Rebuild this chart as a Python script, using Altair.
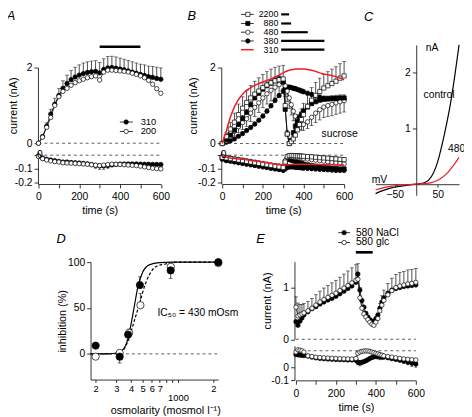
import altair as alt
import pandas as pd

OFF = 8
W, H = 464, 409
FONT = "Liberation Sans"
RED = "#ee1c25"

# ---------------- Panel A data ----------------
T = list(range(0, 601, 20))
A_310 = [0.00, 0.17, 0.45, 0.77, 1.03, 1.26, 1.45, 1.58, 1.68, 1.75, 1.80, 1.84, 1.87, 1.89, 1.90, 1.86,
         1.95, 1.99, 2.00, 1.98, 1.96, 1.94, 1.91, 1.88, 1.85, 1.82, 1.79, 1.76, 1.74, 1.71, 1.69]
A_310_ERR = [0.02, 0.05, 0.09, 0.13, 0.16, 0.18, 0.20, 0.22, 0.24, 0.26, 0.27, 0.28, 0.28, 0.28, 0.28, 0.27,
             0.28, 0.30, 0.30, 0.30, 0.29, 0.28, 0.28, 0.27, 0.27, 0.27, 0.28, 0.28, 0.29, 0.30, 0.30]
A_200 = [0.00, 0.16, 0.42, 0.68, 1.00, 1.23, 1.37, 1.45, 1.53, 1.60, 1.65, 1.69, 1.73, 1.76, 1.78, 1.67,
         1.88, 1.93, 1.93, 1.92, 1.91, 1.90, 1.88, 1.85, 1.82, 1.78, 1.73, 1.66, 1.56, 1.44, 1.32]
A_310_LOW = [-0.005, -0.02, -0.03, -0.035, -0.04, -0.045, -0.05, -0.05, -0.053, -0.055, -0.057, -0.06, -0.063,
             -0.068, -0.075, -0.078, -0.078, -0.075, -0.07, -0.067, -0.065, -0.064, -0.064, -0.064, -0.064,
             -0.065, -0.066, -0.066, -0.067, -0.067, -0.068]
A_310_LOW_ERR = [0.005, 0.01, 0.01, 0.01, 0.01, 0.01, 0.01, 0.01, 0.01, 0.01, 0.01, 0.01, 0.012, 0.015, 0.02,
                 0.025, 0.025, 0.02, 0.015, 0.012, 0.01, 0.01, 0.01, 0.01, 0.01, 0.01, 0.01, 0.01, 0.01, 0.01, 0.01]
A_200_LOW = [-0.01, -0.025, -0.035, -0.042, -0.047, -0.05, -0.055, -0.057, -0.058, -0.06, -0.062, -0.064,
             -0.066, -0.07, -0.073, -0.076, -0.072, -0.068, -0.065, -0.066, -0.068, -0.07, -0.072, -0.074,
             -0.076, -0.08, -0.085, -0.09, -0.095, -0.098, -0.1]

# ---------------- Panel B data ----------------
TB = list(range(0, 301, 20)) + list(range(310, 401, 10)) + list(range(420, 601, 20))
B_2200 = [0, 0.18, 0.38, 0.56, 0.76, 0.93, 1.08, 1.20, 1.30, 1.38, 1.47, 1.54, 1.60, 1.65, 1.68, 1.70,
          1.00, 0.25, 0.00, 0.05, 0.12, 0.22, 0.36, 0.50, 0.63, 0.76,
          0.98, 1.14, 1.27, 1.37, 1.46, 1.52, 1.58, 1.64, 1.72, 1.78]
B_2200_ERR = [0.02, 0.10, 0.18, 0.24, 0.28, 0.30, 0.32, 0.33, 0.34, 0.35, 0.35, 0.35, 0.36, 0.36, 0.36, 0.36,
              0.30, 0.10, 0.04, 0.06, 0.10, 0.15, 0.20, 0.25, 0.28, 0.30,
              0.32, 0.33, 0.34, 0.35, 0.36, 0.37, 0.38, 0.38, 0.38, 0.38]
B_880 = [0, 0.10, 0.22, 0.35, 0.50, 0.66, 0.82, 1.02, 1.20, 1.32, 1.43, 1.52, 1.59, 1.65, 1.70, 1.62,
         0.90, 0.25, 0.00, 0.08, 0.28, 0.45, 0.58, 0.68, 0.77, 0.85,
         0.96, 1.05, 1.10, 1.14, 1.16, 1.17, 1.18, 1.19, 1.20, 1.20]
B_880_ERR = [0.01, 0.03, 0.05, 0.06, 0.07, 0.08, 0.08, 0.08, 0.08, 0.08, 0.08, 0.08, 0.08, 0.08, 0.08, 0.08,
             0.08, 0.05, 0.03, 0.04, 0.06, 0.07, 0.08, 0.08, 0.08, 0.08,
             0.08, 0.08, 0.08, 0.08, 0.08, 0.08, 0.08, 0.08, 0.08, 0.08]
B_480 = [0, 0.07, 0.18, 0.32, 0.44, 0.55, 0.65, 0.80, 0.95, 1.07, 1.20, 1.31, 1.40, 1.48, 1.55, 1.60,
         1.52, 1.38, 1.20, 1.02, 0.85, 0.72, 0.62, 0.55, 0.51, 0.50,
         0.57, 0.69, 0.80, 0.89, 0.96, 1.00, 1.03, 1.07, 1.10, 1.13]
B_480_ERR = [0.01, 0.04, 0.08, 0.12, 0.15, 0.18, 0.20, 0.22, 0.24, 0.25, 0.26, 0.27, 0.28, 0.28, 0.28, 0.28,
             0.28, 0.28, 0.28, 0.27, 0.25, 0.22, 0.20, 0.18, 0.16, 0.15,
             0.18, 0.22, 0.25, 0.27, 0.28, 0.29, 0.30, 0.30, 0.30, 0.30]
B_380 = [0, 0.03, 0.07, 0.12, 0.19, 0.26, 0.34, 0.42, 0.51, 0.61, 0.72, 0.85, 0.99, 1.13, 1.26, 1.38,
         1.44, 1.48, 1.48, 1.47, 1.45, 1.44, 1.42, 1.40, 1.38, 1.36,
         1.32, 1.29, 1.26, 1.22, 1.19, 1.18, 1.18, 1.17, 1.17, 1.17]
B_380_ERR = [0.00, 0.02, 0.03, 0.04, 0.05, 0.05, 0.06, 0.06, 0.06, 0.06, 0.06, 0.06, 0.06, 0.06, 0.06, 0.06,
             0.06, 0.06, 0.06, 0.06, 0.06, 0.06, 0.06, 0.06, 0.06, 0.06,
             0.06, 0.06, 0.06, 0.06, 0.06, 0.06, 0.06, 0.06, 0.06, 0.06]
B_310 = [0, 0.33, 0.70, 0.97, 1.16, 1.30, 1.40, 1.47, 1.53, 1.58, 1.62, 1.66, 1.70, 1.75, 1.80, 1.86,
         1.89, 1.91, 1.93, 1.94, 1.95, 1.96, 1.96, 1.96, 1.96, 1.96,
         1.95, 1.93, 1.90, 1.86, 1.83, 1.81, 1.79, 1.76, 1.72, 1.68]
B_2200_LOW = [-0.015, -0.02, -0.025, -0.03, -0.035, -0.04, -0.045, -0.05, -0.055, -0.06, -0.065, -0.07, -0.075,
              -0.08, -0.085, -0.09, -0.05, -0.01, -0.003, -0.002, -0.003, -0.004, -0.005, -0.006, -0.007, -0.008,
              -0.01, -0.012, -0.015, -0.018, -0.02, -0.022, -0.025, -0.027, -0.03, -0.032]
B_880_LOW = [-0.02, -0.03, -0.035, -0.04, -0.045, -0.05, -0.055, -0.06, -0.065, -0.07, -0.075, -0.08, -0.085,
             -0.09, -0.095, -0.1, -0.06, -0.03, -0.03, -0.035, -0.04, -0.045, -0.05, -0.055, -0.06, -0.065,
             -0.07, -0.075, -0.08, -0.085, -0.09, -0.092, -0.095, -0.097, -0.1, -0.1]
B_480_LOW = [-0.01, -0.015, -0.02, -0.025, -0.03, -0.035, -0.04, -0.045, -0.05, -0.055, -0.06, -0.065, -0.07,
             -0.075, -0.078, -0.08, -0.04, -0.015, -0.01, -0.012, -0.014, -0.016, -0.018, -0.02, -0.022, -0.024,
             -0.028, -0.032, -0.036, -0.04, -0.044, -0.048, -0.052, -0.056, -0.06, -0.064]
B_380_LOW = [-0.03, -0.04, -0.045, -0.05, -0.055, -0.06, -0.065, -0.07, -0.075, -0.08, -0.085, -0.09, -0.095,
             -0.1, -0.105, -0.11, -0.1, -0.09, -0.085, -0.085, -0.085, -0.088, -0.09, -0.09, -0.092, -0.094,
             -0.096, -0.098, -0.1, -0.102, -0.104, -0.106, -0.108, -0.11, -0.11, -0.11]
B_LOW_ERR = [0.005, 0.01, 0.01, 0.012, 0.012, 0.015, 0.015, 0.015, 0.015, 0.015, 0.015, 0.015, 0.015, 0.015,
             0.015, 0.015, 0.015, 0.015, 0.015, 0.015, 0.015, 0.015, 0.015, 0.015, 0.015, 0.015,
             0.015, 0.015, 0.015, 0.015, 0.015, 0.015, 0.015, 0.015, 0.015, 0.015]
B_310_LOW = [-0.01, -0.015, -0.02, -0.024, -0.027, -0.03, -0.034, -0.038, -0.042, -0.046, -0.05, -0.055, -0.06,
             -0.064, -0.068, -0.072, -0.071, -0.07, -0.069, -0.068, -0.067, -0.066, -0.066, -0.066, -0.066,
             -0.066, -0.066, -0.067, -0.068, -0.068, -0.069, -0.07, -0.07, -0.071, -0.072, -0.072]

# ---------------- Panel C data (I-V) ----------------
C_MV = [-95, -80, -60, -40, -20, 0, 10, 20, 30, 40, 50, 60, 70, 80, 90, 100]
C_CONTROL = [-0.17, -0.12, -0.07, -0.04, -0.02, 0, 0.01, 0.03, 0.08, 0.20, 0.40, 0.70, 1.05, 1.45, 1.95, 2.5]
C_480 = [-0.10, -0.07, -0.04, -0.02, -0.01, 0, 0.005, 0.01, 0.02, 0.04, 0.07, 0.12, 0.18, 0.27, 0.37, 0.48]

# ---------------- Panel D data (dose-response) ----------------
D_OSM_F = [200, 320, 377, 475, 867, 2200]
D_INH_F = [9, -3, 21, 75, 91, 100]
D_ERR_F = [0, -7, -6, 9, -9, 0]
D_OSM_O = [200, 320, 385, 480, 870, 2200]
D_INH_O = [-3, 1, 23, 53, 95, 99]
D_ERR_O = [0, 0, 4, 13, 3, 0]
D_FIT_X = [181, 250, 300, 342, 377, 403, 430, 458, 501, 570, 694, 900, 2200]
D_FIT_Y = [0, 0, 1, 5, 17, 35, 55, 74, 89, 97, 99.5, 100, 100]
D_FIT2_X = [181, 300, 342, 388, 428, 472, 518, 570, 648, 787, 1005, 2200]
D_FIT2_Y = [0, 0.5, 4, 19, 37, 55, 73, 86, 95, 98, 100, 100]

# ---------------- Panel E data ----------------
TE = [0, 10, 20, 30, 40] + list(range(60, 301, 20)) + list(range(310, 441, 10)) + list(range(460, 601, 20))
E_NACL = [0.34, 0.27, 0.35, 0.41, 0.47, 0.53, 0.59, 0.63, 0.68, 0.72, 0.76, 0.79, 0.83, 0.88, 0.93, 0.98, 1.03,
          1.10, 1.26, 0.95, 0.75, 0.62, 0.50, 0.43, 0.38, 0.35, 0.34, 0.40, 0.47, 0.60, 0.72, 0.80,
          0.89, 0.95, 0.98, 1.00, 1.02, 1.03, 1.04, 1.05]
E_GLC = [0.62, 0.45, 0.47, 0.49, 0.51, 0.55, 0.60, 0.66, 0.72, 0.77, 0.81, 0.85, 0.89, 0.94, 0.99, 1.04, 1.09,
         1.14, 1.16, 0.80, 0.60, 0.49, 0.43, 0.38, 0.33, 0.29, 0.27, 0.33, 0.40, 0.55, 0.66, 0.75,
         0.86, 0.94, 1.00, 1.03, 1.05, 1.07, 1.08, 1.10]
E_GLC_ERR = [0.20, 0.25, 0.20, 0.18, 0.18, 0.18, 0.19, 0.20, 0.21, 0.22, 0.23, 0.24, 0.25, 0.26, 0.27, 0.28, 0.29,
             0.30, 0.30, 0.20, 0.15, 0.12, 0.10, 0.08, 0.07, 0.06, 0.06, 0.08, 0.10, 0.14, 0.18, 0.20,
             0.22, 0.24, 0.25, 0.26, 0.26, 0.27, 0.27, 0.27]
E_GLC_LOW = [0.12, 0.137, 0.135, 0.13, 0.12, 0.09, 0.085, 0.08, 0.077, 0.075, 0.073, 0.071, 0.07, 0.068, 0.067,
             0.066, 0.065, 0.07, 0.11, 0.12, 0.125, 0.128, 0.129, 0.128, 0.125, 0.12, 0.115, 0.11, 0.105, 0.1,
             0.095, 0.09, 0.085, 0.08, 0.075, 0.07, 0.066, 0.063, 0.06, 0.058]
E_NACL_LOW = [0.1, 0.098, 0.096, 0.094, 0.092, 0.088, 0.08, 0.074, 0.07, 0.067, 0.065, 0.063, 0.061, 0.06, 0.059,
              0.058, 0.058, 0.056, 0.04, 0.036, 0.04, 0.045, 0.052, 0.06, 0.07, 0.077, 0.082, 0.085, 0.085,
              0.084, 0.082, 0.08, 0.075, 0.068, 0.062, 0.055, 0.048, 0.04, 0.032, 0.026]
E_NACL_LOW_ERR = [0.005, 0.005, 0.005, 0.005, 0.005, 0.005, 0.005, 0.005, 0.005, 0.005, 0.005, 0.005, 0.005,
                  0.005, 0.005, 0.005, 0.005, 0.01, 0.02, 0.025, 0.02, 0.015, 0.01, 0.01, 0.01, 0.01, 0.01,
                  0.015, 0.02, 0.025, 0.02, 0.01, 0.01, 0.01, 0.01, 0.01, 0.015, 0.02, 0.025, 0.025]


# ---------------- helpers ----------------
def sc(dom, r, typ="linear"):
    return alt.Scale(type=typ, domain=dom, range=[r[0] - OFF, r[1] - OFF], nice=False, zero=False)


def xax(y_ref, **kw):
    kw.setdefault("labelPadding", 4)
    return alt.Axis(orient="bottom", offset=(y_ref - OFF) - H, **kw)


def yax(x_ref, **kw):
    return alt.Axis(orient="left", offset=-(x_ref - OFF), **kw)


class Panel:
    def __init__(self, xdom, xr, ydom, yr, xaxis=None, yaxis=None, xtype="linear"):
        self.xs = sc(xdom, xr, xtype)
        self.ys = sc(ydom, yr)
        self.xa = xaxis
        self.ya = yaxis
        self.layers = []

    def x(self, f):
        return alt.X(f, type="quantitative", scale=self.xs, axis=self.xa)

    def y(self, f):
        return alt.Y(f, type="quantitative", scale=self.ys, axis=self.ya)

    def add(self, *chs):
        self.layers.extend(chs)

    def chart(self):
        return alt.layer(*self.layers)


def line(P, t, v, color="black", width=0.8, dash=None, interp=None):
    df = pd.DataFrame({"t": t, "v": v})
    kw = dict(color=color, strokeWidth=width, clip=False)
    if dash:
        kw["strokeDash"] = dash
    if interp:
        kw["interpolate"] = interp
    return alt.Chart(df).mark_line(**kw).encode(x=P.x("t"), y=P.y("v"))


def pts(P, t, v, shape="circle", fill="black", size=20, sw=0.7):
    df = pd.DataFrame({"t": t, "v": v})
    return alt.Chart(df).mark_point(shape=shape, filled=True, fill=fill, stroke="black", strokeWidth=sw,
                                    size=size, opacity=1, clip=False).encode(x=P.x("t"), y=P.y("v"))


def errs(P, t, v, e, sign=1, cap=4):
    h = [a + sign * b for a, b in zip(v, e)]
    df = pd.DataFrame({"t": t, "v": v, "h": h})
    r = alt.Chart(df).mark_rule(color="black", strokeWidth=0.7, clip=False).encode(
        x=P.x("t"), y=P.y("v"), y2=alt.Y2("h"))
    c = alt.Chart(df).mark_tick(orient="horizontal", size=cap, thickness=0.7, color="black", clip=False).encode(
        x=P.x("t"), y=P.y("h"))
    return [r, c]


def hseg(P, t0, t1, v, color="black", width=0.8, dash=None):
    df = pd.DataFrame({"t": [t0], "t2": [t1], "v": [v]})
    kw = dict(color=color, strokeWidth=width, clip=False)
    if dash:
        kw["strokeDash"] = dash
    return alt.Chart(df).mark_rule(**kw).encode(x=P.x("t"), x2=alt.X2("t2"), y=P.y("v"))


def txt(P, t, v, s, size=10.5, align="left", baseline="middle", italic=False):
    df = pd.DataFrame({"t": [t], "v": [v], "s": [s]})
    kw = dict(font=FONT, fontSize=size, align=align, baseline=baseline, color="black", clip=False)
    if italic:
        kw["fontStyle"] = "italic"
    return alt.Chart(df).mark_text(**kw).encode(x=P.x("t"), y=P.y("v"), text="s")


DASH = [3, 3]
TIME_TICKS = list(range(0, 601, 100))
TIME_LABELS = "datum.value % 200 == 0 ? datum.label : ''"
LOW_LABELS = "datum.value == 0 ? '' : replace(datum.label, '\u2212', '-')"

# ---------------- Panel A ----------------
PA = Panel([0, 600], (39, 163.5), [0, 2], (142, 65),
           yaxis=yax(38.5, values=[0, 1, 2], format="d", title="current (nA)", titlePadding=8))
PA.add(hseg(PA, 0, 600, 0, color="#333", dash=DASH))
PA.add(*errs(PA, T, A_310, A_310_ERR, 1))
PA.add(line(PA, T, A_310), line(PA, T, A_200))
PA.add(pts(PA, T, A_310, fill="black"), pts(PA, T, A_200, fill="white"))
PA.add(hseg(PA, 399, 463, 0.56), pts(PA, [430], [0.56], fill="black"), txt(PA, 501, 0.56, "310", size=9.5))
PA.add(hseg(PA, 399, 463, 0.31), pts(PA, [430], [0.31], fill="white"), txt(PA, 501, 0.31, "200", size=9.5))
PA.add(hseg(PA, 300, 500, 2.55, width=2.7))
PA.add(txt(PA, -135, 3.35, "A", size=13, align="center", italic=True))

PAL = Panel([0, 600], (39, 163.5), [-0.21, 0.03], (183.5, 150),
            xaxis=xax(183.5, values=TIME_TICKS, labelExpr=TIME_LABELS, title="time (s)"),
            yaxis=yax(38.5, values=[-0.2, -0.1, 0], format=".1f", labelExpr=LOW_LABELS, title=None))
PAL.add(hseg(PAL, 0, 600, 0, color="#333", dash=DASH))
PAL.add(*errs(PAL, T, A_310_LOW, A_310_LOW_ERR, -1, cap=3))
PAL.add(line(PAL, T, A_310_LOW), line(PAL, T, A_200_LOW))
PAL.add(pts(PAL, T, A_310_LOW, fill="black"), pts(PAL, T, A_200_LOW, fill="white"))
PAL.add(txt(PAL, 7, 0.0, "0", align="center"))

# ---------------- Panel B ----------------
PB = Panel([0, 600], (226, 350), [0, 2], (142.3, 65),
           yaxis=yax(225, values=[0, 1, 2], format="d", title="current (nA)", titlePadding=11))
PB.add(hseg(PB, 0, 600, 0, color="#333", dash=DASH))
PB.add(*errs(PB, TB, B_2200, B_2200_ERR, 1))
PB.add(*errs(PB, TB, B_480, B_480_ERR, -1))
PB.add(*errs(PB, TB, B_880, B_880_ERR, 1))
PB.add(*errs(PB, TB, B_380, B_380_ERR, 1))
PB.add(line(PB, TB, B_380), line(PB, TB, B_480), line(PB, TB, B_880), line(PB, TB, B_2200))
PB.add(pts(PB, TB, B_380, fill="black"), pts(PB, TB, B_480, fill="white"))
PB.add(pts(PB, TB, B_880, shape="square", fill="black", size=18),
       pts(PB, TB, B_2200, shape="square", fill="white", size=18))
PB.add(line(PB, TB, B_310, color=RED, width=1.5))
# legend
LEG_V = [3.40, 3.16, 2.93, 2.70, 2.47]
LEG_TXT = ["2200", "880", "480", "380", "310"]
LEG_END = [329, 339, 421, 503, 503]
for i in range(4):
    PB.add(hseg(PB, 92, 155, LEG_V[i]))
PB.add(pts(PB, [126], [LEG_V[0]], shape="square", fill="white", size=18))
PB.add(pts(PB, [126], [LEG_V[1]], shape="square", fill="black", size=18))
PB.add(pts(PB, [126], [LEG_V[2]], fill="white"))
PB.add(pts(PB, [126], [LEG_V[3]], fill="black"))
PB.add(hseg(PB, 92, 155, LEG_V[4], color=RED, width=1.5))
for i in range(5):
    PB.add(txt(PB, 276, LEG_V[i], LEG_TXT[i], size=9, align="right"))
    PB.add(hseg(PB, 290, LEG_END[i], LEG_V[i], width=2.2))
PB.add(txt(PB, 489, 0.26, "sucrose"))
PB.add(txt(PB, -150, 3.35, "B", size=13, align="center", italic=True))

PBL = Panel([0, 600], (226, 350), [-0.21, 0.03], (183.5, 150),
            xaxis=xax(183.5, values=TIME_TICKS, labelExpr=TIME_LABELS, title="time (s)"),
            yaxis=yax(225, values=[-0.2, -0.1, 0], format=".1f", labelExpr=LOW_LABELS, title=None))
PBL.add(hseg(PBL, 0, 600, 0, color="#333", dash=DASH))
PBL.add(*errs(PBL, TB, B_380_LOW, B_LOW_ERR, -1, cap=3))
PBL.add(*errs(PBL, TB, B_880_LOW, B_LOW_ERR, -1, cap=3))
PBL.add(*errs(PBL, TB, B_2200_LOW, B_LOW_ERR, 1, cap=3))
PBL.add(line(PBL, TB, B_380_LOW), line(PBL, TB, B_880_LOW), line(PBL, TB, B_480_LOW), line(PBL, TB, B_2200_LOW))
PBL.add(pts(PBL, TB, B_380_LOW, fill="black"), pts(PBL, TB, B_880_LOW, shape="square", fill="black", size=18))
PBL.add(pts(PBL, TB, B_480_LOW, fill="white"), pts(PBL, TB, B_2200_LOW, shape="square", fill="white", size=18))
PBL.add(line(PBL, TB, B_310_LOW, color=RED, width=1.5))
PBL.add(txt(PBL, 7, 0.0, "0", align="center"))

# ---------------- Panel C ----------------
PC = Panel([-95, 100], (382, 467), [-0.2, 2.5], (195, 42),
           xaxis=xax(183.7, values=[-50, 50], title=None, tickSize=3, labelPadding=3),
           yaxis=yax(423.4, values=[1, 2], title=None))
PC.add(line(PC, C_MV, C_CONTROL, width=1.2, interp="monotone"))
PC.add(line(PC, C_MV, C_480, color=RED, width=1.2, interp="monotone"))
PC.add(txt(PC, -111, 3.0, "C", size=13, align="center", italic=True))
PC.add(txt(PC, 22, 2.45, "nA"))
PC.add(txt(PC, 17, 1.6, "control"))
PC.add(txt(PC, 74, 0.63, "480"))
PC.add(txt(PC, -104, 0.08, "mV"))

# ---------------- Panel D ----------------
D_LABELS = ("datum.value == 1000 ? ['', '1000'] : datum.value == 2000 ? '2' : "
            "datum.value <= 700 ? '' + (datum.value / 100) : ''")
PD = Panel([181, 2200], (92, 222), [-28, 100], (382.5, 263), xtype="log",
           xaxis=xax(382.5, values=[200, 300, 400, 500, 600, 700, 800, 900, 1000, 2000], labelExpr=D_LABELS,
                     title="osmolarity (mosmol l\u207b\u00b9)", titleX=160, tickSize=3, labelFontSize=9.5,
                     labelLineHeight=9, labelPadding=1),
           yaxis=yax(92, values=[0, 50, 100], title="inhibition (%)", titlePadding=0))
PD.add(hseg(PD, 181, 2200, 0, color="#333", dash=DASH))
PD.add(line(PD, D_FIT2_X, D_FIT2_Y, width=1.2, dash=[3, 2], interp="monotone"))
PD.add(line(PD, D_FIT_X, D_FIT_Y, width=1.2, interp="monotone"))
PD.add(*errs(PD, D_OSM_F, D_INH_F, D_ERR_F, 1))
PD.add(*errs(PD, D_OSM_O, D_INH_O, D_ERR_O, 1))
PD.add(pts(PD, D_OSM_O, D_INH_O, fill="white", size=55))
PD.add(pts(PD, D_OSM_F, D_INH_F, fill="black", size=55))
PD.add(txt(PD, 102, 125, "D", size=13, align="center", italic=True))
PD.add(txt(PD, 670, 44, "IC\u2085\u2080 = 430 mOsm"))

# ---------------- Panel E ----------------
PE = Panel([0, 600], (301, 423), [0, 1.5], (341.5, 262.5),
           yaxis=yax(299.5, values=[0, 1], format="d", title="current (nA)", titlePadding=11))
PE.add(hseg(PE, 0, 600, 0, color="#333", dash=DASH))
PE.add(*errs(PE, TE, E_GLC, E_GLC_ERR, 1))
PE.add(line(PE, TE, E_NACL), line(PE, TE, E_GLC))
PE.add(pts(PE, TE, E_NACL, fill="black"), pts(PE, TE, E_GLC, fill="white"))
PE.add(hseg(PE, 212, 271, 2.06), pts(PE, [241], [2.06], fill="black"), txt(PE, 300, 2.06, "580 NaCl"))
PE.add(hseg(PE, 212, 271, 1.87), pts(PE, [241], [1.87], fill="white"), txt(PE, 300, 1.87, "580 glc"))
PE.add(hseg(PE, 300, 384, 1.68, width=2.7))
PE.add(txt(PE, -177, 1.93, "E", size=13, align="center", italic=True))

PEL = Panel([0, 600], (301, 423), [-0.1, 0.17], (383, 348),
            xaxis=xax(383.3, values=TIME_TICKS, labelExpr=TIME_LABELS, title="time (s)"),
            yaxis=yax(299.5, values=[-0.1, 0], format=".1f",
                      labelExpr="datum.value == 0 ? '0' : replace(datum.label, '\u2212', '-')", title=None))
PEL.add(hseg(PEL, 0, 600, 0.13, color="#333", dash=DASH))
PEL.add(*errs(PEL, TE, E_NACL_LOW, E_NACL_LOW_ERR, -1, cap=3))
PEL.add(line(PEL, TE, E_NACL_LOW), line(PEL, TE, E_GLC_LOW))
PEL.add(pts(PEL, TE, E_NACL_LOW, fill="black"), pts(PEL, TE, E_GLC_LOW, fill="white"))

chart = alt.layer(
    PA.chart(), PAL.chart(), PB.chart(), PBL.chart(), PC.chart(), PD.chart(), PE.chart(), PEL.chart()
).resolve_scale(x="independent", y="independent").resolve_axis(
    x="independent", y="independent"
).properties(
    width=W, height=H, padding=0, autosize=alt.AutoSizeParams(type="none")
).configure_view(stroke=None).configure_axis(
    domainColor="black", tickColor="black", labelColor="black", titleColor="black",
    labelFont=FONT, titleFont=FONT, labelFontSize=10.5, titleFontSize=11, titleFontWeight="normal",
    grid=False, labelFlush=False, labelOverlap=False, tickSize=4, domainWidth=0.8, tickWidth=0.8,
    labelPadding=2, titlePadding=3
)

chart.save("out.html", embed_options={"renderer": "svg", "actions": False})
